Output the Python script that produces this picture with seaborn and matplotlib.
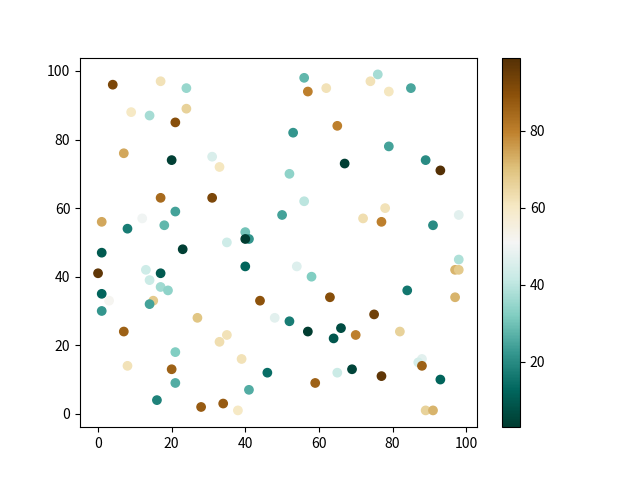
import numpy as np
import pandas as pd
import matplotlib
matplotlib.use('Agg')
import matplotlib.pyplot as plt
import seaborn as sns

# values
xs = [4, 17, 24, 9, 14, 24, 21, 7, 20, 31, 33, 17, 31, 1, 12, 8, 18, 21, 40, 41,
      40, 35, 23, 1, 0, 13, 17, 14, 40, 17, 19, 1, 3, 15, 14, 1, 44, 48, 27, 7,
      35, 33, 21, 39, 8, 20, 46, 21, 41, 16, 28, 34, 38, 56, 57, 62, 76, 74, 79, 85,
      53, 65, 79, 67, 89, 93, 52, 56, 50, 72, 78, 77, 91, 98, 98, 97, 98, 54, 58, 84,
      97, 63, 75, 52, 57, 66, 64, 70, 82, 88, 87, 88, 59, 65, 69, 77, 93, 89, 91]
ys = [96, 97, 95, 88, 87, 89, 85, 76, 74, 75, 72, 63, 63, 56, 57, 54, 55, 59, 53, 51,
      51, 50, 48, 47, 41, 42, 41, 39, 43, 37, 36, 35, 33, 33, 32, 30, 33, 28, 28, 24,
      23, 21, 18, 16, 14, 13, 12, 9, 7, 4, 2, 3, 1, 98, 94, 95, 99, 97, 94, 95,
      82, 84, 78, 73, 74, 71, 70, 62, 58, 57, 60, 56, 55, 58, 45, 42, 42, 43, 40, 36,
      34, 34, 29, 27, 24, 25, 22, 23, 24, 16, 15, 14, 9, 12, 13, 11, 10, 1, 1]
cs = [92, 62, 35, 60, 37, 66, 90, 74, 4, 45, 61, 84, 92, 74, 50, 17, 28, 24, 30, 22,
      3, 43, 4, 10, 97, 43, 10, 42, 12, 36, 34, 12, 52, 68, 24, 22, 89, 47, 69, 86,
      62, 63, 32, 62, 62, 86, 14, 26, 26, 18, 87, 87, 60, 28, 80, 62, 37, 62, 61, 25,
      22, 80, 24, 4, 20, 99, 34, 40, 24, 63, 62, 80, 20, 47, 38, 72, 68, 46, 32, 16,
      72, 90, 94, 17, 3, 7, 9, 80, 66, 47, 44, 86, 86, 42, 5, 97, 12, 66, 72]

df = pd.DataFrame({'x': xs, 'y': ys, 'c': cs})

plt.rcParams['font.family'] = ['Noto Sans CJK SC', 'DejaVu Sans']
fig, ax = plt.subplots(figsize=(6.4, 4.8), dpi=100)
norm = plt.Normalize(df['c'].min(), df['c'].max())
sns.scatterplot(data=df, x='x', y='y', hue='c', palette='BrBG_r', hue_norm=norm,
                s=36, linewidth=1, edgecolor='face', legend=False, ax=ax)
ax.set_xlabel('')
ax.set_ylabel('')
sm = plt.cm.ScalarMappable(cmap='BrBG_r', norm=norm)
fig.colorbar(sm, ax=ax)
fig.savefig('out.png')
